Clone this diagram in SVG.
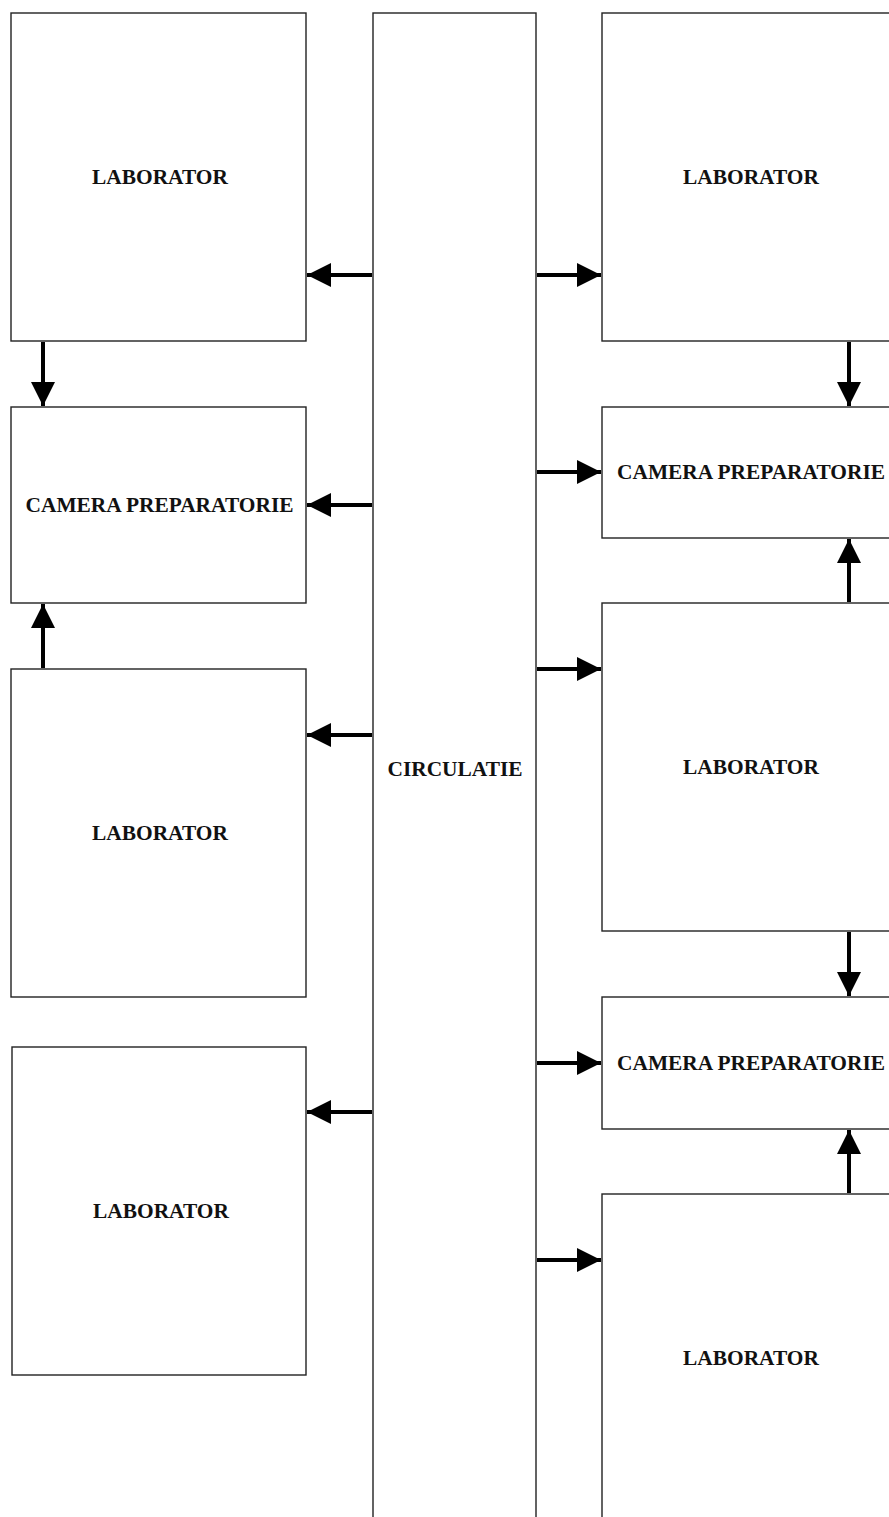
<svg xmlns="http://www.w3.org/2000/svg" width="889" height="1517" viewBox="0 0 889 1517">
<defs>
<style>
.box{fill:#fff;stroke:#222;stroke-width:1.4}
.lbl{font-family:"Liberation Serif","Times New Roman",serif;font-weight:bold;font-size:21.4px;fill:#111;text-anchor:middle;dominant-baseline:central}
.con{stroke:#000;stroke-width:4;fill:none;marker-end:url(#ah)}
</style>
<marker id="ah" viewBox="0 0 10 10" refX="10" refY="5" markerWidth="6" markerHeight="6" markerUnits="strokeWidth" orient="auto">
<path d="M0,0 L10,5 L0,10 Z" fill="#000"/>
</marker>
</defs>
<rect width="889" height="1517" fill="#fff"/>
<g id="circulatie"><rect class="box" x="373" y="13" width="163" height="1520"/><text class="lbl" x="455" y="769">CIRCULATIE</text></g>
<g id="lab-l1"><rect class="box" x="11" y="13" width="295" height="328"/><text class="lbl" x="160" y="177">LABORATOR</text></g>
<g id="cam-l1"><rect class="box" x="11" y="407" width="295" height="196"/><text class="lbl" x="159.5" y="505">CAMERA PREPARATORIE</text></g>
<g id="lab-l2"><rect class="box" x="11" y="669" width="295" height="328"/><text class="lbl" x="160" y="833">LABORATOR</text></g>
<g id="lab-l3"><rect class="box" x="12" y="1047" width="294" height="328"/><text class="lbl" x="161" y="1211">LABORATOR</text></g>
<g id="lab-r1"><rect class="box" x="602" y="13" width="296" height="328"/><text class="lbl" x="751" y="177">LABORATOR</text></g>
<g id="cam-r1"><rect class="box" x="602" y="407" width="296" height="131"/><text class="lbl" x="751" y="472">CAMERA PREPARATORIE</text></g>
<g id="lab-r2"><rect class="box" x="602" y="603" width="296" height="328"/><text class="lbl" x="751" y="767">LABORATOR</text></g>
<g id="cam-r2"><rect class="box" x="602" y="997" width="296" height="132"/><text class="lbl" x="751" y="1063">CAMERA PREPARATORIE</text></g>
<g id="lab-r3"><rect class="box" x="602" y="1194" width="296" height="340"/><text class="lbl" x="751" y="1358">LABORATOR</text></g>
<g id="connectors">
<line class="con" x1="372" y1="275" x2="307" y2="275"/>
<line class="con" x1="372" y1="505" x2="307" y2="505"/>
<line class="con" x1="372" y1="735" x2="307" y2="735"/>
<line class="con" x1="372" y1="1112" x2="307" y2="1112"/>
<line class="con" x1="537" y1="275" x2="601" y2="275"/>
<line class="con" x1="537" y1="472" x2="601" y2="472"/>
<line class="con" x1="537" y1="669" x2="601" y2="669"/>
<line class="con" x1="537" y1="1063" x2="601" y2="1063"/>
<line class="con" x1="537" y1="1260" x2="601" y2="1260"/>
<line class="con" x1="43" y1="342" x2="43" y2="406"/>
<line class="con" x1="43" y1="668" x2="43" y2="604"/>
<line class="con" x1="849" y1="342" x2="849" y2="406"/>
<line class="con" x1="849" y1="602" x2="849" y2="539"/>
<line class="con" x1="849" y1="932" x2="849" y2="996"/>
<line class="con" x1="849" y1="1193" x2="849" y2="1130"/>
</g>
</svg>
